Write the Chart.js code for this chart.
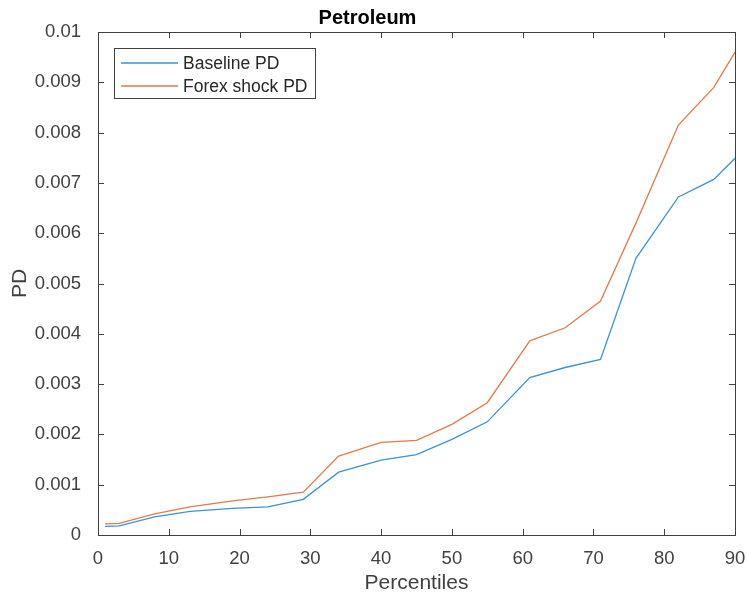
<!DOCTYPE html>
<html lang="en">
<head>
    <meta charset="UTF-8">
    <title>Petroleum</title>
    <script src="https://cdn.jsdelivr.net/npm/chart.js"></script>
    <style>
        html, body { margin: 0; padding: 0; background: #fff; }
        #wrap { width: 747px; height: 596px; }
    </style>
</head>
<body>
    <div id="wrap"><canvas id="pdChart"></canvas></div>
    <script>
        // percentiles and PD values
        const percentiles = [1, 3, 8, 13, 19, 24, 29, 34, 40, 45, 50, 55, 61, 66, 71, 76, 82, 87, 90];
        const baselinePD = [0.00017, 0.00018, 0.00036, 0.00047, 0.00053, 0.00056, 0.00071, 0.00125, 0.00149, 0.0016,
            0.0019, 0.00225, 0.00313, 0.00333, 0.00349, 0.0055, 0.00672, 0.00707, 0.00749];
        const forexShockPD = [0.00022, 0.00023, 0.00042, 0.00056, 0.00068, 0.00076, 0.00085, 0.00157, 0.00184, 0.00188,
            0.0022, 0.00263, 0.00386, 0.00412, 0.00465, 0.0062, 0.00815, 0.0089, 0.0096];
        const seriesNames = ['Baseline PD', 'Forex shock PD'];

        const FONT = '"Liberation Sans", Arial, sans-serif';
        const AXIS = '#404040';

        function toPoints(xs, ys) {
            return xs.map((x, i) => ({ x: x, y: ys[i] }));
        }

        // box, inward ticks and inside legend, MATLAB style
        const matlabAxes = {
            id: 'matlabAxes',
            afterDraw(chart) {
                const ctx = chart.ctx;
                const a = chart.chartArea;
                const xs = chart.scales.x, ys = chart.scales.y;
                ctx.save();
                ctx.strokeStyle = AXIS;
                ctx.lineWidth = 1;
                ctx.beginPath();
                xs.ticks.forEach(t => {
                    const px = Math.round(xs.getPixelForValue(t.value)) + 0.5;
                    ctx.moveTo(px, a.bottom); ctx.lineTo(px, a.bottom - 6);
                    ctx.moveTo(px, a.top); ctx.lineTo(px, a.top + 6);
                });
                ys.ticks.forEach(t => {
                    const py = Math.round(ys.getPixelForValue(t.value)) + 0.5;
                    ctx.moveTo(a.left, py); ctx.lineTo(a.left + 6, py);
                    ctx.moveTo(a.right, py); ctx.lineTo(a.right - 6, py);
                });
                ctx.stroke();
                ctx.strokeRect(Math.round(a.left) + 0.5, Math.round(a.top) + 0.5,
                    Math.round(a.right - a.left), Math.round(a.bottom - a.top));

                // legend
                const lx = Math.round(a.left) + 16, ly = Math.round(a.top) + 16, lw = 201, lh = 50;
                ctx.fillStyle = '#fff';
                ctx.fillRect(lx, ly, lw, lh);
                ctx.strokeRect(lx + 0.5, ly + 0.5, lw, lh);
                ctx.font = '17.5px ' + FONT;
                ctx.textBaseline = 'middle';
                chart.data.datasets.forEach((ds, i) => {
                    const ry = ly + 15 + i * 23;
                    ctx.strokeStyle = ds.borderColor;
                    ctx.lineWidth = 1.3;
                    ctx.beginPath();
                    ctx.moveTo(lx + 7, ry); ctx.lineTo(lx + 64, ry);
                    ctx.stroke();
                    ctx.fillStyle = '#262626';
                    ctx.fillText(ds.label, lx + 69, ry + 1);
                });
                ctx.restore();
            }
        };

        new Chart(document.getElementById('pdChart'), {
            type: 'line',
            data: {
                datasets: [{
                    label: seriesNames[0],
                    data: toPoints(percentiles, baselinePD),
                    borderColor: '#3a93d2',
                    borderWidth: 1.3,
                    pointRadius: 0,
                    tension: 0,
                    fill: false
                }, {
                    label: seriesNames[1],
                    data: toPoints(percentiles, forexShockPD),
                    borderColor: '#e27a4c',
                    borderWidth: 1.3,
                    pointRadius: 0,
                    tension: 0,
                    fill: false
                }]
            },
            plugins: [matlabAxes],
            options: {
                responsive: true,
                maintainAspectRatio: false,
                animation: false,
                layout: { padding: { top: 0, right: 12, bottom: 0, left: 0 } },
                plugins: {
                    legend: { display: false },
                    tooltip: { enabled: false },
                    title: {
                        display: true,
                        text: 'Petroleum',
                        color: '#000',
                        font: { family: FONT, size: 20, weight: 'bold' },
                        padding: { top: 6, bottom: 2 }
                    }
                },
                scales: {
                    x: {
                        type: 'linear',
                        min: 0,
                        max: 90,
                        grid: { display: false },
                        border: { display: false },
                        ticks: { stepSize: 10, color: AXIS, padding: 5, font: { family: FONT, size: 18.5 } },
                        title: { display: true, text: 'Percentiles', color: AXIS, padding: { top: 0, bottom: 0 },
                            font: { family: FONT, size: 21 } },
                        afterFit(scale) {
                            scale.height = 61;
                            scale.paddingLeft = 0;
                            scale.paddingRight = 0;
                        }
                    },
                    y: {
                        min: 0,
                        max: 0.01,
                        grid: { display: false },
                        border: { display: false },
                        ticks: {
                            stepSize: 0.001,
                            color: AXIS,
                            padding: 9,
                            font: { family: FONT, size: 18.5 },
                            callback: v => v === 0 ? '0' : (Math.abs(v - 0.01) < 1e-9 ? '0.01' : v.toFixed(3))
                        },
                        title: { display: true, text: 'PD', color: AXIS, padding: { top: 8, bottom: 0 },
                            font: { family: FONT, size: 21 } },
                        afterFit(scale) { scale.width = 98; }
                    }
                }
            }
        });
    </script>
</body>
</html>
